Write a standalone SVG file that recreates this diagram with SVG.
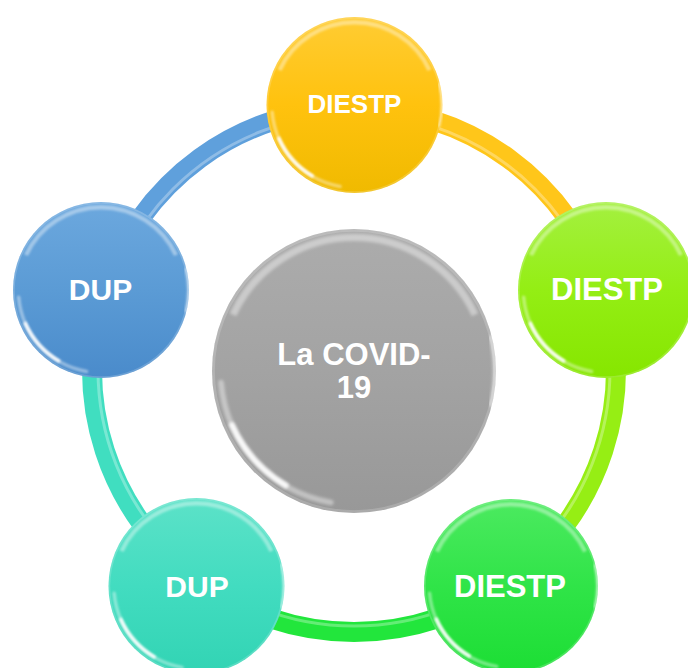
<svg xmlns="http://www.w3.org/2000/svg" width="688" height="668" viewBox="0 0 688 668">
<style>
.lbl{font-family:"Liberation Sans",Arial,sans-serif;font-weight:bold;fill:#ffffff;text-anchor:middle}
.seg{fill:none;stroke-width:20}
.segHi{fill:none;stroke:#ffffff;stroke-opacity:0.3;stroke-width:3}
</style>
<defs>
<linearGradient id="gYellow" x1="0" y1="0" x2="0" y2="1"><stop offset="0" stop-color="#FFCC33"/><stop offset="0.5" stop-color="#FFC20E"/><stop offset="1" stop-color="#F0BA00"/></linearGradient>
<linearGradient id="gLime" x1="0" y1="0" x2="0" y2="1"><stop offset="0" stop-color="#A4F040"/><stop offset="0.5" stop-color="#94EE14"/><stop offset="1" stop-color="#86E600"/></linearGradient>
<linearGradient id="gGreen" x1="0" y1="0" x2="0" y2="1"><stop offset="0" stop-color="#4CEA60"/><stop offset="0.5" stop-color="#30E448"/><stop offset="1" stop-color="#1CDE34"/></linearGradient>
<linearGradient id="gTurq" x1="0" y1="0" x2="0" y2="1"><stop offset="0" stop-color="#5CE2C8"/><stop offset="0.5" stop-color="#42DCC0"/><stop offset="1" stop-color="#32D4B4"/></linearGradient>
<linearGradient id="gBlue" x1="0" y1="0" x2="0" y2="1"><stop offset="0" stop-color="#6CA8DE"/><stop offset="0.5" stop-color="#5B9BD5"/><stop offset="1" stop-color="#4A8BCB"/></linearGradient>
<linearGradient id="gGray" x1="0" y1="0" x2="0" y2="1"><stop offset="0" stop-color="#ACACAC"/><stop offset="0.5" stop-color="#A3A3A3"/><stop offset="1" stop-color="#989898"/></linearGradient>
<filter id="soft" x="-20%" y="-20%" width="140%" height="140%"><feGaussianBlur stdDeviation="1.2"/></filter>
<g id="gloss">
<circle r="99" fill="none" stroke="#ffffff" stroke-opacity="0.18" stroke-width="2"/>
<path d="M-85.2,-39.7 A94,94 0 0 1 85.2,-39.7" fill="none" stroke="#ffffff" stroke-opacity="0.4" stroke-width="5" filter="url(#soft)"/>
<path d="M-16.3,92.6 A94,94 0 0 1 -93.6,8.2" fill="none" stroke="#ffffff" stroke-opacity="0.4" stroke-width="4" stroke-linecap="round" filter="url(#soft)"/>
<path d="M-48,80.6 A94,94 0 0 1 -86,38" fill="none" stroke="#ffffff" stroke-opacity="0.9" stroke-width="4" stroke-linecap="round" filter="url(#soft)"/>
<path d="M96,-25 A99,99 0 0 1 96,25" fill="none" stroke="#ffffff" stroke-opacity="0.5" stroke-width="3" filter="url(#soft)"/>
</g>
</defs>
<rect width="688" height="668" fill="#ffffff"/>
<g id="connectors">
<path class="seg" stroke="#FFC61A" d="M354,108 A262,262 0 0 1 603.18,289.04"/>
<path class="seg" stroke="#96EE14" d="M603.18,289.04 A262,262 0 0 1 508,581.96"/>
<path class="seg" stroke="#22E63C" d="M508,581.96 A262,262 0 0 1 200,581.96"/>
<path class="seg" stroke="#40DEC0" d="M200,581.96 A262,262 0 0 1 104.82,289.04"/>
<path class="seg" stroke="#5FA0DC" d="M104.82,289.04 A262,262 0 0 1 354,108"/>
<circle cx="354" cy="370" r="256" class="segHi"/>
</g>
<g id="node-center">
<circle cx="354" cy="371" r="142" fill="url(#gGray)"/>
<use href="#gloss" transform="translate(354,371) scale(1.42)"/>
<text class="lbl" x="354" y="365" font-size="31">La COVID-</text>
<text class="lbl" x="354" y="398" font-size="31">19</text>
</g>
<g id="node-top">
<circle cx="354.5" cy="105" r="88" fill="url(#gYellow)"/>
<use href="#gloss" transform="translate(354.5,105) scale(0.88)"/>
<text class="lbl" x="354.5" y="113" font-size="26">DIESTP</text>
</g>
<g id="node-right">
<circle cx="606" cy="290" r="88" fill="url(#gLime)"/>
<use href="#gloss" transform="translate(606,290) scale(0.88)"/>
<text class="lbl" x="607" y="300" font-size="31">DIESTP</text>
</g>
<g id="node-bottom-right">
<circle cx="511" cy="586" r="87" fill="url(#gGreen)"/>
<use href="#gloss" transform="translate(511,586) scale(0.87)"/>
<text class="lbl" x="510" y="597" font-size="31">DIESTP</text>
</g>
<g id="node-bottom-left">
<circle cx="196.5" cy="586" r="88" fill="url(#gTurq)"/>
<use href="#gloss" transform="translate(196.5,586) scale(0.88)"/>
<text class="lbl" x="197" y="597" font-size="30">DUP</text>
</g>
<g id="node-left">
<circle cx="101" cy="290" r="88" fill="url(#gBlue)"/>
<use href="#gloss" transform="translate(101,290) scale(0.88)"/>
<text class="lbl" x="100.5" y="300" font-size="30">DUP</text>
</g>
</svg>
